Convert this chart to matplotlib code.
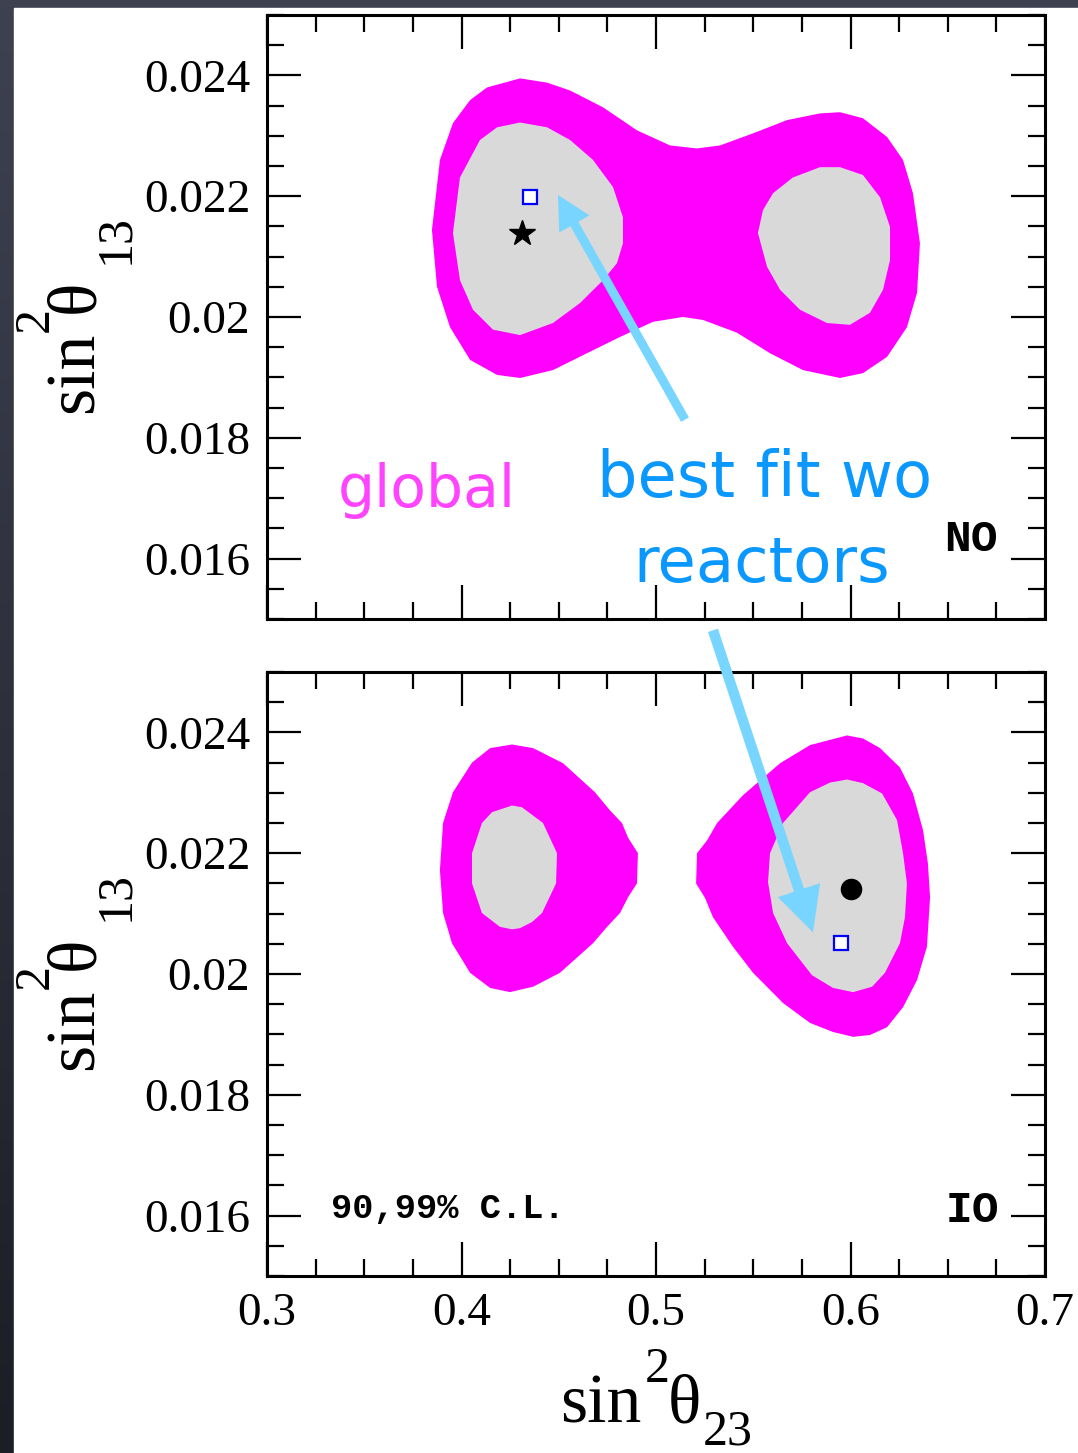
import numpy as np
import matplotlib
matplotlib.use("Agg")
import matplotlib.pyplot as plt
from matplotlib.ticker import MultipleLocator, FormatStrFormatter
from matplotlib.colors import LinearSegmentedColormap
from matplotlib.patches import Rectangle

plt.rcParams["font.family"] = "Liberation Serif"

# ---- NO (normal ordering) regions, (sin^2 th23, sin^2 th13) ----
no99_x = [0.3848, 0.3889, 0.3956, 0.4044, 0.4131, 0.4301, 0.4440, 0.4558, 0.4728, 0.4902,
          0.5072, 0.5211, 0.5329, 0.5499, 0.5674, 0.5843, 0.5946, 0.6064, 0.6188, 0.6270,
          0.6321, 0.6357, 0.6342, 0.6290, 0.6188, 0.6064, 0.5946, 0.5756, 0.5586, 0.5416,
          0.5242, 0.5139, 0.4985, 0.4815, 0.4645, 0.4470, 0.4301, 0.4183, 0.4044, 0.3941,
          0.3874]
no99_y = [0.02144, 0.02260, 0.02321, 0.02359, 0.02380, 0.02395, 0.02388, 0.02375, 0.02347, 0.02309,
          0.02284, 0.02279, 0.02284, 0.02304, 0.02326, 0.02337, 0.02339, 0.02329, 0.02298, 0.02260,
          0.02205, 0.02122, 0.02040, 0.01983, 0.01934, 0.01907, 0.01899, 0.01912, 0.01940, 0.01974,
          0.01995, 0.02000, 0.01992, 0.01967, 0.01940, 0.01912, 0.01899, 0.01904, 0.01929, 0.01983,
          0.02050]

no90a_x = [0.3956, 0.3992, 0.4095, 0.4183, 0.4301, 0.4440, 0.4558, 0.4676, 0.4779, 0.4830,
           0.4830, 0.4799, 0.4728, 0.4609, 0.4470, 0.4301, 0.4162, 0.4059, 0.3992]
no90a_y = [0.02139, 0.02231, 0.02293, 0.02314, 0.02322, 0.02314, 0.02293, 0.02260, 0.02215, 0.02165,
           0.02122, 0.02089, 0.02061, 0.02023, 0.01990, 0.01970, 0.01979, 0.02012, 0.02061]

no90b_x = [0.5524, 0.5550, 0.5602, 0.5704, 0.5843, 0.5946, 0.6064, 0.6152, 0.6203, 0.6203,
           0.6167, 0.6100, 0.5997, 0.5879, 0.5740, 0.5638, 0.5571]
no90b_y = [0.02139, 0.02177, 0.02205, 0.02231, 0.02248, 0.02248, 0.02235, 0.02198, 0.02149, 0.02094,
           0.02045, 0.02007, 0.01987, 0.01990, 0.02012, 0.02045, 0.02083]

# ---- IO (inverted ordering) regions ----
io99a_x = [0.3889, 0.3905, 0.3956, 0.4054, 0.4147, 0.4260, 0.4368, 0.4522, 0.4686, 0.4763,
           0.4825, 0.4856, 0.4907, 0.4902, 0.4856, 0.4815, 0.4748, 0.4676, 0.4506, 0.4368,
           0.4249, 0.4147, 0.4044, 0.3951, 0.3905]
io99a_y = [0.02172, 0.02250, 0.02301, 0.02350, 0.02374, 0.02380, 0.02374, 0.02349, 0.02301, 0.02271,
           0.02250, 0.02226, 0.02200, 0.02150, 0.02127, 0.02101, 0.02078, 0.02051, 0.02002, 0.01979,
           0.01970, 0.01977, 0.02002, 0.02051, 0.02101]

io90a_x = [0.4054, 0.4105, 0.4157, 0.4260, 0.4311, 0.4419, 0.4491, 0.4486, 0.4414, 0.4362,
           0.4301, 0.4260, 0.4198, 0.4105, 0.4054]
io90a_y = [0.02200, 0.02250, 0.02268, 0.02279, 0.02276, 0.02250, 0.02200, 0.02150, 0.02101, 0.02086,
           0.02076, 0.02074, 0.02078, 0.02101, 0.02150]

io99b_x = [0.5211, 0.5262, 0.5314, 0.5447, 0.5638, 0.5792, 0.5982, 0.6064, 0.6152, 0.6254,
           0.6321, 0.6373, 0.6398, 0.6409, 0.6393, 0.6342, 0.6270, 0.6188, 0.6100, 0.6013,
           0.5910, 0.5792, 0.5653, 0.5499, 0.5396, 0.5293, 0.5252, 0.5206]
io99b_y = [0.02200, 0.02221, 0.02250, 0.02296, 0.02349, 0.02379, 0.02395, 0.02390, 0.02374, 0.02342,
           0.02299, 0.02238, 0.02183, 0.02127, 0.02045, 0.01990, 0.01945, 0.01912, 0.01899, 0.01896,
           0.01904, 0.01919, 0.01952, 0.02002, 0.02045, 0.02094, 0.02126, 0.02150]

io90b_x = [0.5576, 0.5586, 0.5653, 0.5792, 0.5895, 0.5982, 0.6064, 0.6162, 0.6239, 0.6270,
           0.6290, 0.6280, 0.6254, 0.6177, 0.6111, 0.6013, 0.5910, 0.5802, 0.5674, 0.5602]
io90b_y = [0.02152, 0.02200, 0.02250, 0.02301, 0.02317, 0.02322, 0.02316, 0.02299, 0.02255, 0.02200,
           0.02150, 0.02094, 0.02051, 0.02002, 0.01979, 0.01970, 0.01977, 0.01998, 0.02051, 0.02101]

# best fit points
no_best = (0.4311, 0.02139)
no_worea = (0.4352, 0.02198)
io_best = (0.6003, 0.02140)
io_worea = (0.5951, 0.02051)

# arrows (tail, tip)
arrow_no = ((0.5149, 0.01830), (0.4496, 0.02202))
arrow_io = ((0.5293, 0.02569), (0.5807, 0.02069))

magenta = "#FF00FF"
gray = "#D9D9D9"
arrow_col = "#77D5FF"
blue_txt = "#0A98FF"

fig = plt.figure(figsize=(10.78, 14.53), dpi=100)

# slide background
bg = fig.add_axes([0, 0, 1, 1], zorder=-10)
cmap = LinearSegmentedColormap.from_list("bg", ["#1c1e26", "#3e4150"])
bg.imshow(np.linspace(0, 1, 200)[:, None], aspect="auto", cmap=cmap,
          extent=[0, 1, 0, 1], origin="lower")
bg.add_patch(Rectangle((14 / 1078, 0), 1, 1 - 8 / 1453, color="white"))
bg.set_xlim(0, 1)
bg.set_ylim(0, 1)
bg.axis("off")

ax1 = fig.add_axes([0.2477, 0.5740, 0.7217, 0.4157])
ax2 = fig.add_axes([0.2477, 0.1218, 0.7217, 0.4157])


def axis_label(ax, pieces, rot):
    # pieces: (text, along, across, size) in axes fraction
    for s, a, b, size in pieces:
        if rot:
            ax.text(b, a, s, transform=ax.transAxes, fontsize=size, rotation=90,
                    rotation_mode="anchor", ha="left", va="baseline", clip_on=False)
        else:
            ax.text(a, b, s, transform=ax.transAxes, fontsize=size,
                    ha="left", va="baseline", clip_on=False)


ylab = [("sin", 0.3411, -0.2237, 50), ("2", 0.4752, -0.2815, 36),
        ("\u03b8", 0.5066, -0.2237, 50), ("13", 0.5877, -0.1787, 36)]
xlab = [("sin", 0.3766, -0.2417, 50), ("2", 0.4859, -0.1755, 36),
        ("\u03b8", 0.5154, -0.2417, 50), ("23", 0.5604, -0.2790, 36)]

for ax in (ax1, ax2):
    ax.set_xlim(0.3, 0.7)
    ax.set_ylim(0.015, 0.025)
    ax.xaxis.set_major_locator(MultipleLocator(0.1))
    ax.xaxis.set_minor_locator(MultipleLocator(0.025))
    ax.yaxis.set_major_locator(MultipleLocator(0.002))
    ax.yaxis.set_minor_locator(MultipleLocator(0.0005))
    ax.xaxis.set_major_formatter(FormatStrFormatter("%g"))
    ax.yaxis.set_major_formatter(FormatStrFormatter("%g"))
    ax.tick_params(which="both", direction="in", top=True, right=True, width=1.6)
    ax.tick_params(which="major", length=24.5, pad=12, labelsize=34)
    ax.tick_params(which="minor", length=12)
    for s in ax.spines.values():
        s.set_linewidth(2.2)
    axis_label(ax, ylab, True)

ax1.tick_params(labelbottom=False)
axis_label(ax2, xlab, False)

# NO
ax1.fill(no99_x, no99_y, color=magenta, lw=0)
ax1.fill(no90a_x, no90a_y, color=gray, lw=0)
ax1.fill(no90b_x, no90b_y, color=gray, lw=0)
ax1.plot(*no_best, marker="*", color="black", ms=19, ls="none")
ax1.plot(*no_worea, marker="s", mfc="white", mec="#0000FF", mew=1.6, ms=10.5, ls="none")

# IO
ax2.fill(io99a_x, io99a_y, color=magenta, lw=0)
ax2.fill(io99b_x, io99b_y, color=magenta, lw=0)
ax2.fill(io90a_x, io90a_y, color=gray, lw=0)
ax2.fill(io90b_x, io90b_y, color=gray, lw=0)
ax2.plot(*io_best, marker="o", color="black", ms=14.5, ls="none")
ax2.plot(*io_worea, marker="s", mfc="white", mec="#0000FF", mew=1.6, ms=10.5, ls="none")

ax1.annotate("", xy=arrow_no[1], xytext=arrow_no[0], annotation_clip=False,
             arrowprops=dict(width=6.5, headwidth=25, headlength=24, shrink=0,
                             color=arrow_col, lw=0))
ax2.annotate("", xy=arrow_io[1], xytext=arrow_io[0], annotation_clip=False,
             arrowprops=dict(width=7.5, headwidth=32, headlength=32, shrink=0,
                             color=arrow_col, lw=0))

# annotations
ax1.text(0.3823, 0.01686, "global", color="#FF44FF", fontsize=42,
         family="DejaVu Sans", ha="center", va="baseline")
ax1.text(0.5560, 0.01702, "best fit wo", color=blue_txt, fontsize=46,
         family="DejaVu Sans", ha="center", va="baseline")
ax1.text(0.5545, 0.01562, "reactors", color=blue_txt, fontsize=45,
         family="DejaVu Sans", ha="center", va="baseline")
ax1.text(0.905, 0.131, "NO", transform=ax1.transAxes, fontsize=32,
         family="Liberation Mono", weight="bold", ha="center", va="center")
ax2.text(0.906, 0.108, "IO", transform=ax2.transAxes, fontsize=32,
         family="Liberation Mono", weight="bold", ha="center", va="center")
ax2.text(0.082, 0.112, "90,99% C.L.", transform=ax2.transAxes, fontsize=25.5,
         family="Liberation Mono", weight="bold", ha="left", va="center")

fig.savefig("out.png", dpi=100)
